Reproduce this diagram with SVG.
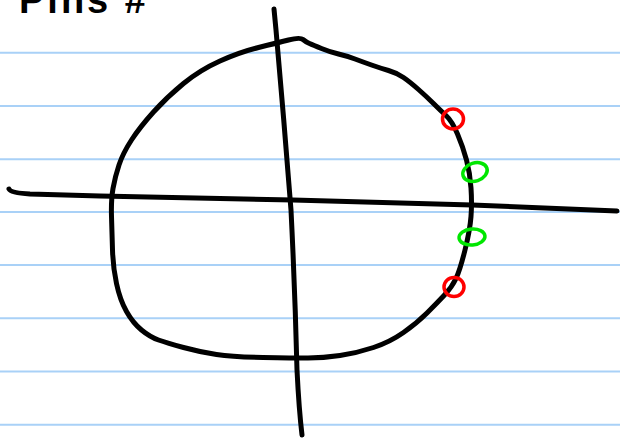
<svg xmlns="http://www.w3.org/2000/svg" width="620" height="438" viewBox="0 0 620 438">
  <style>
    .rule { stroke: #a9d1f7; stroke-width: 2; }
    .ink { fill: none; stroke: #000; stroke-width: 5; stroke-linecap: round; stroke-linejoin: round; }
    .pole { fill: none; stroke: #ff0000; stroke-width: 3.5; }
    .zero { fill: none; stroke: #00e600; stroke-width: 3.5; }
    .title { font-family: "Liberation Sans", Arial, sans-serif; font-size: 38px; font-weight: bold; fill: #000; }
  </style>
  <rect width="620" height="438" fill="#ffffff"/>
  <g id="paper-lines">
    <line class="rule" x1="0" y1="52.7" x2="620" y2="52.7"/>
    <line class="rule" x1="0" y1="106" x2="620" y2="106"/>
    <line class="rule" x1="0" y1="159.3" x2="620" y2="159.3"/>
    <line class="rule" x1="0" y1="212" x2="620" y2="212"/>
    <line class="rule" x1="0" y1="265" x2="620" y2="265"/>
    <line class="rule" x1="0" y1="318.3" x2="620" y2="318.3"/>
    <line class="rule" x1="0" y1="371.5" x2="620" y2="371.5"/>
    <line class="rule" x1="0" y1="424.8" x2="620" y2="424.8"/>
  </g>
  <g id="title">
    <text class="title" x="19" y="13" letter-spacing="3">Pins #</text>
  </g>
  <g id="axes">
    <path class="ink" d="M9,189 Q11,193 30,194 L100,196 L293,200 L472,205 L617,211"/>
    <path class="ink" d="M274,9 L276,30 Q284,120 291,210 Q295,290 297,370 Q299,410 302,435"/>
  </g>
  <g id="contour">
    <path class="ink" d="M258.5,47.5 Q277,43 288.5,40 Q300,37 303,39.5 Q306,42 309.5,43.5 Q313,45 321.5,48.5 Q330,52 338.5,54 Q347,56 355,59 Q363,62 371.5,65 Q380,68 388.5,70.5 Q397,73 403.5,77.5 Q410,82 418.5,89.5 Q427,97 433.5,103.5 Q440,110 446,115.5 Q452,121 457.5,134 Q463,147 466.5,160 Q470,173 471,188 Q472,203 471,216.5 Q470,230 465,250 Q460,270 456,278.5 Q452,287 444.5,295 Q437,303 427,313 Q417,323 403.5,332.5 Q390,342 373.5,347.5 Q357,353 340,355.5 Q323,358 308,358 Q293,358 263,357.5 Q233,357 216.5,354.5 Q200,352 183.5,347.5 Q167,343 158.5,340 Q150,337 141.5,330 Q133,323 126.5,311.5 Q120,300 116.5,283.5 Q113,267 112.5,250 Q112,233 111.5,216.5 Q111,200 113,188.5 Q115,177 119,165 Q123,153 131.5,140 Q140,127 153.5,112 Q167,97 183.5,83.5 Q200,70 220,61 Q240,52 258.5,47.5 Z"/>
  </g>
  <g id="pole-upper"><ellipse class="pole" cx="453" cy="119" rx="10.5" ry="10"/></g>
  <g id="zero-upper"><ellipse class="zero" cx="475" cy="172" rx="12.5" ry="9" transform="rotate(-18 475 172)"/></g>
  <g id="zero-lower"><ellipse class="zero" cx="472" cy="237" rx="13" ry="8" transform="rotate(-5 472 237)"/></g>
  <g id="pole-lower"><ellipse class="pole" cx="454" cy="287" rx="10" ry="9.5"/></g>
</svg>
